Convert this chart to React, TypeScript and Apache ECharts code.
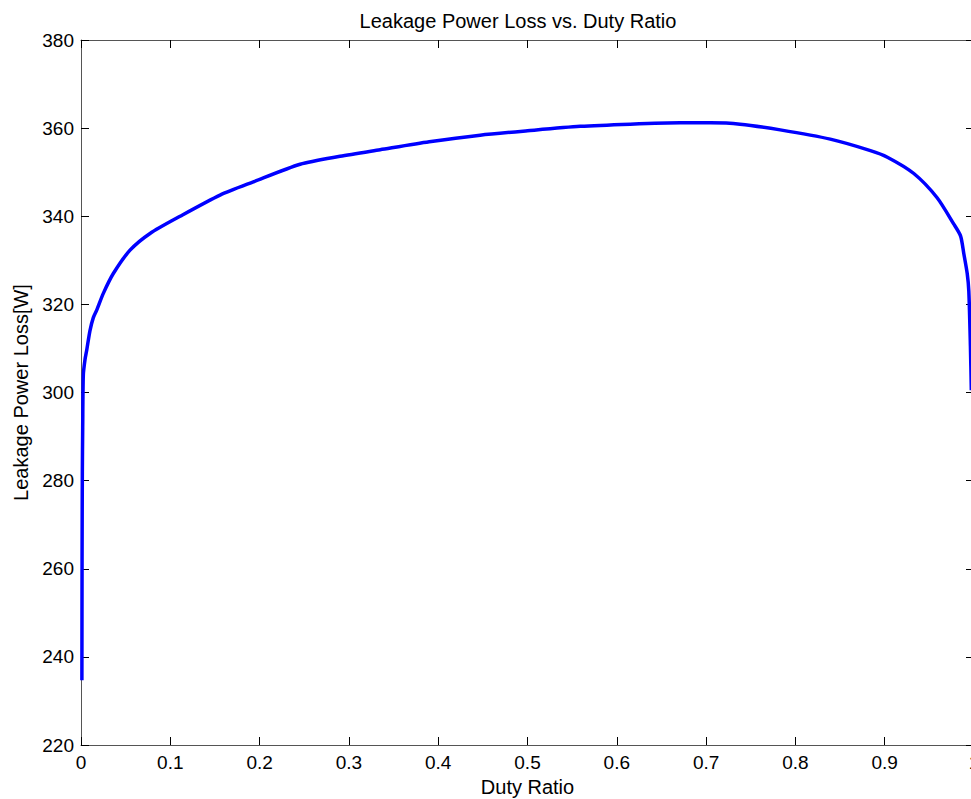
import React, { useEffect, useRef } from "react";
import * as echarts from "echarts";

const dutyRatio = [
  0.001, 0.0012, 0.0015, 0.0019, 0.0026, 0.0045, 0.0064, 0.01, 0.0138, 0.0176,
  0.025, 0.0362, 0.0549, 0.0773, 0.111, 0.1557, 0.193, 0.2454, 0.29, 0.335,
  0.39, 0.447, 0.5, 0.559, 0.615, 0.671, 0.705, 0.738, 0.783, 0.839,
  0.884, 0.903, 0.9326, 0.9587, 0.9774, 0.985, 0.9886, 0.9924, 0.9942, 0.996,
  0.997,
];
const leakageLoss = [
  234.7, 262, 282, 292, 304, 307.5, 309.6, 314, 317, 318.7,
  322.5, 327, 332.3, 336.1, 340, 344.8, 347.8, 351.8, 353.6, 355.1,
  356.9, 358.4, 359.4, 360.4, 360.9, 361.2, 361.2, 360.9, 359.6, 357.5,
  354.9, 353.4, 349.7, 344.2, 338.2, 335.5, 331.5, 327, 323, 310.4,
  300.5,
];

const titleText = "Leakage Power Loss vs. Duty Ratio";
const xName = "Duty Ratio";
const yName = "Leakage Power Loss[W]";

const FONT = "Arial, 'Liberation Sans', sans-serif";

export default function App() {
  const ref = useRef<HTMLDivElement>(null);
  useEffect(() => {
    if (!ref.current) return;
    const chart = echarts.init(ref.current, null, { renderer: "svg" });
    const lineCol = "#555";
    const tickCol = "#000";
    const baseAxisX = {
      type: "value",
      min: 0,
      max: 1,
      interval: 0.1,
      splitLine: { show: false },
      axisLine: { show: true, onZero: false, lineStyle: { color: lineCol, width: 1 } },
      axisTick: { show: true, inside: true, length: 8, lineStyle: { color: tickCol, width: 1 } },
    };
    const baseAxisY = {
      type: "value",
      min: 220,
      max: 380,
      interval: 20,
      splitLine: { show: false },
      axisLine: { show: true, onZero: false, lineStyle: { color: lineCol, width: 1 } },
      axisTick: { show: true, inside: true, length: 8, lineStyle: { color: tickCol, width: 1 } },
    };
    chart.setOption({
      animation: false,
      backgroundColor: "#fff",
      grid: { left: 81, right: -3, top: 40, bottom: 54, outerBoundsMode: "none", containLabel: false },
      graphic: [
        {
          type: "text",
          x: 518,
          y: 21,
          style: {
            text: titleText,
            align: "center",
            verticalAlign: "middle",
            fontSize: 20,
            fontFamily: FONT,
            fill: "#000",
          },
        },
      ],
      xAxis: [
        {
          ...baseAxisX,
          position: "bottom",
          axisLabel: { color: "#000", fontSize: 19, fontFamily: FONT, margin: 8, hideOverlap: false },
          name: xName,
          nameLocation: "middle",
          nameGap: 29,
          nameTextStyle: { color: "#000", fontSize: 20, fontFamily: FONT },
        },
        {
          ...baseAxisX,
          position: "top",
          axisLabel: { show: false },
        },
      ],
      yAxis: [
        {
          ...baseAxisY,
          position: "left",
          axisLabel: { color: "#000", fontSize: 19, fontFamily: FONT, margin: 7 },
          name: yName,
          nameLocation: "middle",
          nameGap: 50,
          nameTextStyle: { color: "#000", fontSize: 20, fontFamily: FONT },
        },
        {
          ...baseAxisY,
          position: "right",
          axisLabel: { show: false },
        },
      ],
      series: [
        {
          type: "line",
          xAxisIndex: 0,
          yAxisIndex: 0,
          data: dutyRatio.map((d, i) => [d, leakageLoss[i]]),
          showSymbol: false,
          smooth: 0.25,
          lineStyle: { color: "#0000ff", width: 3.5 },
          itemStyle: { color: "#0000ff" },
        },
      ],
    });
    return () => chart.dispose();
  }, []);
  return (
    <div
      ref={ref}
      style={{ position: "absolute", left: 0, top: 0, width: 971, height: 799 }}
    />
  );
}
